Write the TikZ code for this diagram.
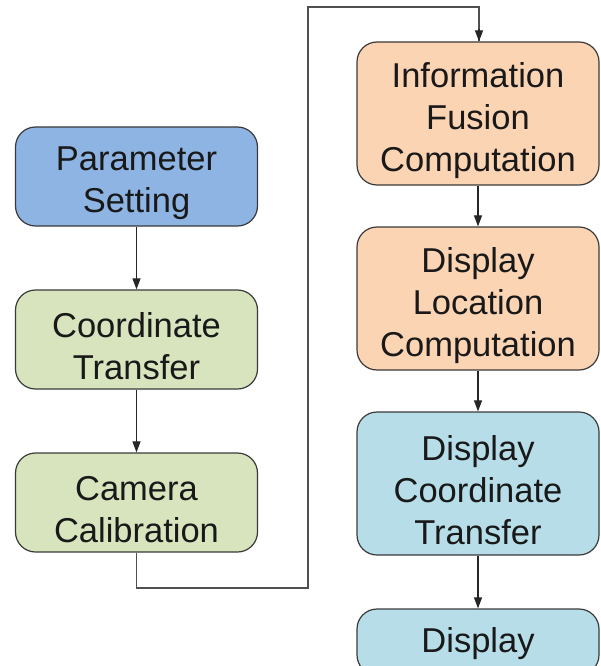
\documentclass[tikz,border=0pt]{standalone}
\usepackage{fontspec}
\setmainfont{Liberation Sans}
\usetikzlibrary{arrows.meta}
\definecolor{boxline}{HTML}{3A3A3A}
\definecolor{wireclr}{HTML}{505050}
\definecolor{paramblue}{HTML}{8EB4E3}
\definecolor{stepgreen}{HTML}{D7E4BD}
\definecolor{steppeach}{HTML}{FBD4B4}
\definecolor{steplblue}{HTML}{B7DEE8}
\tikzset{
  flowbox/.style={draw=boxline, line width=1.2pt, rounded corners=20pt,
    minimum width=242pt, minimum height=99pt, inner sep=0pt},
  tallbox/.style={flowbox, minimum height=143pt},
  boxtext/.style={align=center, inner sep=0pt, text=black!90,
    font=\fontsize{34.5}{42}\selectfont, yshift=-7pt},
  flowarrow/.style={draw=black!85, line width=1.1pt, -{Triangle[length=11pt,width=8pt]}},
  wire/.style={draw=wireclr, line width=1.3pt}
}
\begin{document}
\begin{tikzpicture}[x=1pt,y=-1pt]
  \useasboundingbox (0,0) rectangle (600,666);
  \clip (0,0) rectangle (600,666);
  % left column
  \node[flowbox, fill=paramblue] (ps) at (136.5,176.5) {};
  \node[boxtext] (ps-t) at (ps.center) {Parameter\\Setting};
  \node[flowbox, fill=stepgreen] (ct) at (136.5,339.5) {};
  \node[boxtext] (ct-t) at (ct.center) {Coordinate\\Transfer};
  \node[flowbox, fill=stepgreen] (cc) at (136.5,502.5) {};
  \node[boxtext] (cc-t) at (cc.center) {Camera\\Calibration};
  % right column
  \node[tallbox, fill=steppeach] (ifc) at (478,113.5) {};
  \node[boxtext] (ifc-t) at (ifc.center) {Information\\Fusion\\Computation};
  \node[tallbox, fill=steppeach] (dlc) at (478,298.5) {};
  \node[boxtext] (dlc-t) at (dlc.center) {Display\\Location\\Computation};
  \node[tallbox, fill=steplblue] (dct) at (478,483.5) {};
  \node[boxtext] (dct-t) at (dct.center) {Display\\Coordinate\\Transfer};
  \node[flowbox, fill=steplblue, minimum height=66pt] (disp) at (478,642) {};
  \node[boxtext, yshift=5pt] (disp-t) at (disp.center) {Display};
  % connectors
  \draw[flowarrow] (ps.south) -- (ct.north);
  \draw[flowarrow] (ct.south) -- (cc.north);
  \coordinate (c1) at (308,588);
  \coordinate (c2) at (308,7);
  \draw[wire] (cc.south) |- (c1) -- (c2) -| ([xshift=1pt]ifc.north);
  \draw[flowarrow] ([xshift=1pt]ifc.north) ++(0,-12) -- ([xshift=1pt]ifc.north);
  \draw[flowarrow] (ifc.south) -- (dlc.north);
  \draw[flowarrow] (dlc.south) -- (dct.north);
  \draw[flowarrow] (dct.south) -- (disp.north);
\end{tikzpicture}
\end{document}
